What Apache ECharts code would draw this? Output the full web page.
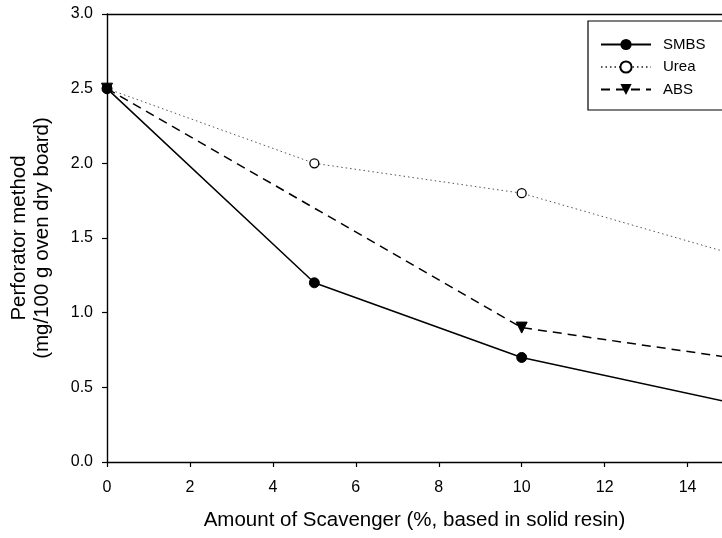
<!DOCTYPE html>
<html>
<head>
<meta charset="utf-8">
<script src="https://cdn.jsdelivr.net/npm/echarts@6/dist/echarts.min.js"></script>
<style>
  html, body { margin: 0; padding: 0; background: #fff; }
  #chart { width: 722px; height: 538px; }
</style>
</head>
<body>
<div id="chart"></div>
<script>
// values (the last point sits just past the cropped right edge)
var smbsX = [0, 5, 10, 15];
var smbsY = [2.5, 1.2, 0.7, 0.4];
var ureaX = [0, 5, 10, 15];
var ureaY = [2.5, 2.0, 1.8, 1.4];
var absX = [0, 10, 15];
var absY = [2.5, 0.9, 0.7];

function pairs(xs, ys) {
    return xs.map(function (x, i) { return [x, ys[i]]; });
}

var font = 'Liberation Sans, Arial, sans-serif';
var chart = echarts.init(document.getElementById('chart'));

var axisLineStyle = { color: '#000', width: 1.4 };

var option = {
    animation: false,
    textStyle: { fontFamily: font, color: '#000' },
    grid: {
        left: 105,
        top: 14,
        bottom: 76,
        right: 0,
        show: false
    },
    legend: {
        left: 588,
        top: 21,
        orient: 'vertical',
        itemWidth: 50,
        itemHeight: 14,
        itemGap: 7.5,
        padding: [16, 30, 13, 12],
        borderColor: '#000',
        borderWidth: 1.2,
        textStyle: { fontFamily: font, fontSize: 15, color: '#000', padding: [0, 0, 0, 7] },
        data: ['SMBS', 'Urea', 'ABS']
    },
    xAxis: [
        {
            type: 'value',
            min: 0,
            max: 14.83,
            interval: 2,
            name: 'Amount of Scavenger (%, based in solid resin)',
            nameLocation: 'middle',
            nameGap: 48,
            nameTextStyle: { fontSize: 20.5, fontFamily: font, color: '#000' },
            splitLine: { show: false },
            axisLine: { onZero: false, lineStyle: axisLineStyle },
            axisTick: { inside: false, length: 5, lineStyle: { color: '#000', width: 1.2 } },
            axisLabel: { fontSize: 16, color: '#000', margin: 18, showMaxLabel: false }
        },
        {
            type: 'value',
            position: 'top',
            min: 0,
            max: 14.83,
            splitLine: { show: false },
            axisLine: { onZero: false, lineStyle: axisLineStyle },
            axisTick: { show: false },
            axisLabel: { show: false }
        }
    ],
    yAxis: {
        type: 'value',
        min: 0,
        max: 3,
        interval: 0.5,
        name: 'Perforator method\n(mg/100 g oven dry board)',
        nameLocation: 'middle',
        nameGap: 53,
        nameTextStyle: { fontSize: 20.5, fontFamily: font, color: '#000', lineHeight: 23 },
        splitLine: { show: false },
        axisLine: { onZero: false, lineStyle: axisLineStyle },
        axisTick: { inside: false, length: 5, lineStyle: { color: '#000', width: 1.2 } },
        axisLabel: {
            fontSize: 16, color: '#000', margin: 14,
            formatter: function (v) { return v.toFixed(1); }
        }
    },
    series: [
        {
            name: 'SMBS',
            type: 'line',
            data: pairs(smbsX, smbsY),
            symbol: 'circle',
            symbolSize: 10,
            itemStyle: { color: '#000', borderColor: '#000' },
            lineStyle: { color: '#000', width: 1.5, type: 'solid' },
            z: 4
        },
        {
            name: 'Urea',
            type: 'line',
            data: pairs(ureaX, ureaY),
            symbol: 'circle',
            symbolSize: 9,
            itemStyle: { color: '#fff', borderColor: '#000', borderWidth: 1.3 },
            lineStyle: { color: '#555', width: 1, type: [1.5, 3] },
            z: 3
        },
        {
            name: 'ABS',
            type: 'line',
            data: pairs(absX, absY),
            symbol: 'triangle',
            symbolRotate: 180,
            symbolSize: 11,
            itemStyle: { color: '#000', borderColor: '#000' },
            lineStyle: { color: '#000', width: 1.5, type: [9, 6] },
            z: 3
        }
    ]
};

chart.setOption(option);
</script>
</body>
</html>
